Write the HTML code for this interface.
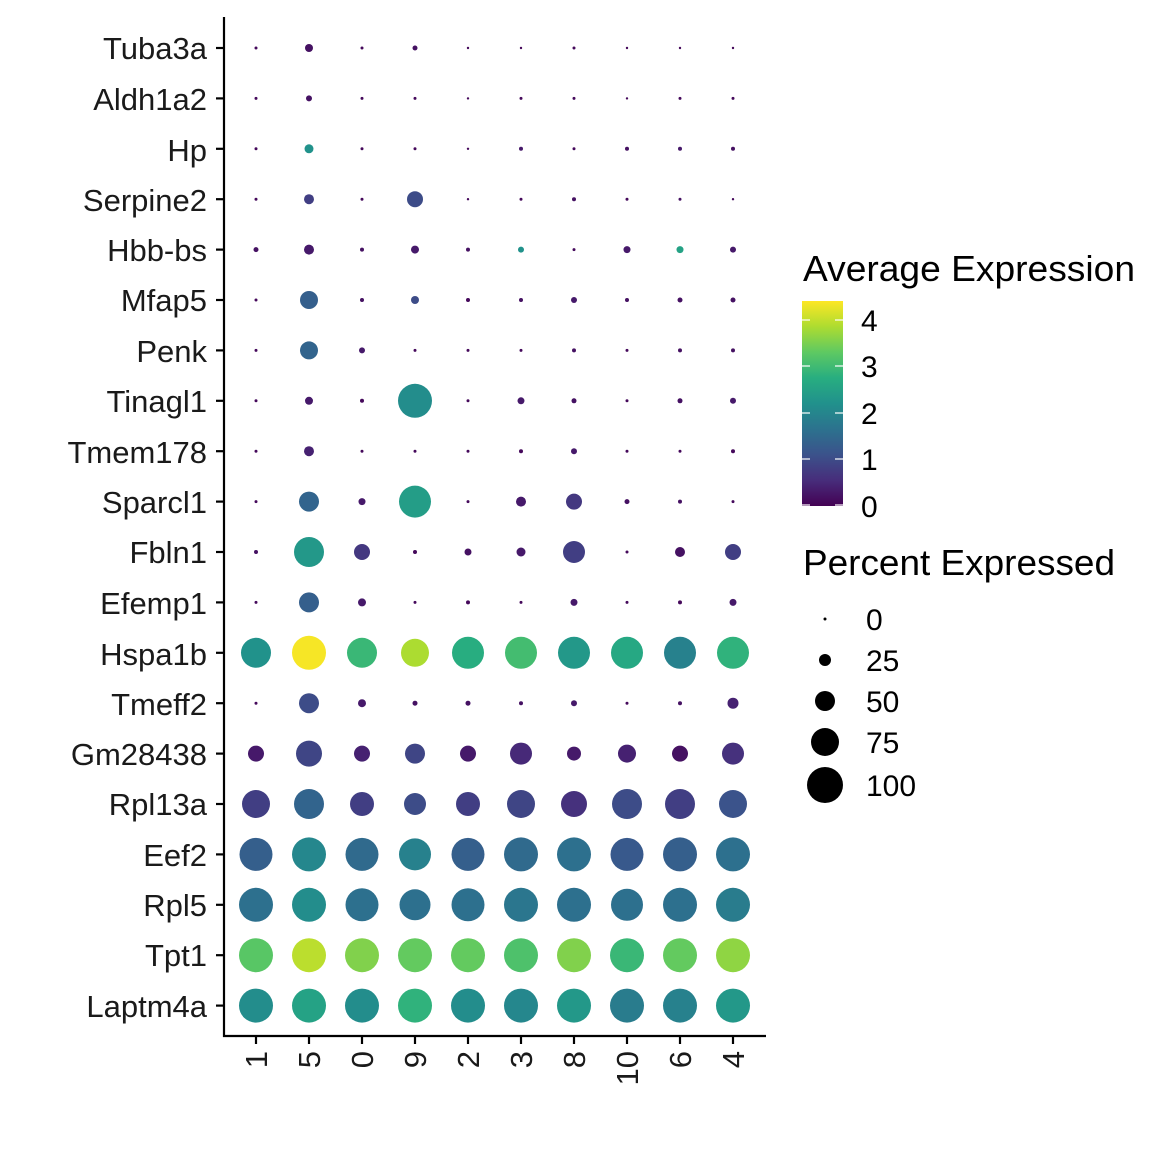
<!DOCTYPE html>
<html><head><meta charset="utf-8"><style>
html,body{margin:0;padding:0;background:#fff;}
svg{display:block;font-family:"Liberation Sans",Arial,sans-serif;}
</style></head><body>
<svg id="s" width="1152" height="1152" viewBox="0 0 1152 1152" xmlns="http://www.w3.org/2000/svg">
<defs><linearGradient id="vg" x1="0" y1="1" x2="0" y2="0">
<stop offset="0" stop-color="#440154"/><stop offset="0.125" stop-color="#472d7b"/><stop offset="0.25" stop-color="#3b528b"/><stop offset="0.375" stop-color="#2c728e"/><stop offset="0.5" stop-color="#21918c"/><stop offset="0.625" stop-color="#28ae80"/><stop offset="0.75" stop-color="#5ec962"/><stop offset="0.875" stop-color="#addc30"/><stop offset="1" stop-color="#fde725"/></linearGradient></defs>
<g id="dots"></g>
<line x1="224" y1="17" x2="224" y2="1037" stroke="#000" stroke-width="2.2"/>
<line x1="223" y1="1036" x2="766" y2="1036" stroke="#000" stroke-width="2.2"/>
<g id="ticks" stroke="#000" stroke-width="2.2"></g>
<g font-size="31" text-anchor="end" fill="#1a1a1a">
<text x="207" y="59">Tuba3a</text><text x="207" y="110">Aldh1a2</text><text x="207" y="161">Hp</text><text x="207" y="211">Serpine2</text><text x="207" y="261">Hbb-bs</text><text x="207" y="311">Mfap5</text><text x="207" y="362">Penk</text><text x="207" y="412">Tinagl1</text><text x="207" y="463">Tmem178</text><text x="207" y="513">Sparcl1</text><text x="207" y="563">Fbln1</text><text x="207" y="614">Efemp1</text><text x="207" y="665">Hspa1b</text><text x="207" y="715">Tmeff2</text><text x="207" y="765">Gm28438</text><text x="207" y="815">Rpl13a</text><text x="207" y="866">Eef2</text><text x="207" y="916">Rpl5</text><text x="207" y="966">Tpt1</text><text x="207" y="1017">Laptm4a</text>
</g>
<g font-size="31" text-anchor="end" fill="#1a1a1a">
<text transform="translate(267,1051) rotate(-90)">1</text><text transform="translate(320,1051) rotate(-90)">5</text><text transform="translate(373,1051) rotate(-90)">0</text><text transform="translate(426,1051) rotate(-90)">9</text><text transform="translate(479,1051) rotate(-90)">2</text><text transform="translate(532,1051) rotate(-90)">3</text><text transform="translate(585,1051) rotate(-90)">8</text><text transform="translate(638,1051) rotate(-90)">10</text><text transform="translate(691,1051) rotate(-90)">6</text><text transform="translate(744,1051) rotate(-90)">4</text>
</g>
<text x="803" y="281" font-size="36" fill="#000" textLength="332" lengthAdjust="spacingAndGlyphs">Average Expression</text>
<rect x="802" y="301" width="41" height="205" fill="url(#vg)"/>
<g stroke="#fff" stroke-width="1.2">
<line x1="802" y1="320" x2="810" y2="320"/><line x1="835" y1="320" x2="843" y2="320"/>
<line x1="802" y1="366" x2="810" y2="366"/><line x1="835" y1="366" x2="843" y2="366"/>
<line x1="802" y1="413" x2="810" y2="413"/><line x1="835" y1="413" x2="843" y2="413"/>
<line x1="802" y1="459" x2="810" y2="459"/><line x1="835" y1="459" x2="843" y2="459"/>
<line x1="802" y1="505" x2="810" y2="505"/><line x1="835" y1="505" x2="843" y2="505"/>
</g>
<g font-size="30" fill="#000">
<text x="861" y="331">4</text><text x="861" y="377">3</text><text x="861" y="424">2</text><text x="861" y="470">1</text><text x="861" y="517">0</text>
</g>
<text x="803" y="575" font-size="36" fill="#000" textLength="312" lengthAdjust="spacingAndGlyphs">Percent Expressed</text>
<g fill="#000">
<circle cx="825" cy="619" r="1.5"/><circle cx="825" cy="660" r="6"/><circle cx="825" cy="701" r="10"/><circle cx="825" cy="742" r="14"/><circle cx="825" cy="785" r="18"/>
</g>
<g font-size="30" fill="#000">
<text x="866" y="630">0</text><text x="866" y="671">25</text><text x="866" y="712">50</text><text x="866" y="753">75</text><text x="866" y="796">100</text>
</g>
</svg>
<script>
var V=["#440154","#472d7b","#3b528b","#2c728e","#21918c","#28ae80","#5ec962","#addc30","#fde725"];
function h(c){return [parseInt(c.substr(1,2),16),parseInt(c.substr(3,2),16),parseInt(c.substr(5,2),16)];}
function col(v){var t=Math.max(0,Math.min(1,v/4.35))*8;var i=Math.min(7,Math.floor(t)),f=t-i;var a=h(V[i]),b=h(V[i+1]);
return "rgb("+a.map(function(x,k){return Math.round(x+(b[k]-x)*f)}).join(",")+")";}
var R=[
[[1.5,.1],[4,.2],[1.5,.1],[2.5,.2],[1.2,.1],[1.2,.1],[1.5,.1],[1.2,.1],[1.2,.1],[1.2,.1]],
[[1.5,.1],[3,.2],[1.5,.1],[1.5,.1],[1.2,.1],[1.5,.1],[1.5,.1],[1.2,.1],[1.5,.1],[1.5,.1]],
[[1.5,.1],[4.5,2.2],[1.5,.1],[1.5,.1],[1.2,.1],[2,.3],[1.5,.1],[2,.2],[2,.3],[2,.2]],
[[1.5,.1],[5,.8],[1.5,.1],[8,1.0],[1.2,.1],[1.5,.1],[2,.2],[1.5,.1],[1.5,.2],[1.2,.1]],
[[2.5,.2],[5,.3],[2,.2],[4,.3],[2,.2],[3,2.2],[1.5,.1],[3.5,.3],[3.5,2.5],[3,.3]],
[[1.5,.1],[9,1.3],[2,.2],[4,1.0],[2,.1],[2,.2],[3,.3],[2,.2],[2.5,.2],[2.5,.2]],
[[1.5,.1],[9,1.4],[3,.3],[1.5,.1],[1.5,.1],[1.5,.1],[2,.2],[1.5,.1],[2,.2],[2,.2]],
[[1.5,.1],[4,.3],[2,.1],[17,2.1],[1.5,.1],[3.5,.3],[2.5,.2],[1.5,.1],[2.5,.2],[3,.3]],
[[1.5,.1],[5,.4],[1.5,.1],[1.5,.1],[1.5,.1],[2,.1],[3,.3],[1.5,.1],[1.5,.1],[2,.1]],
[[1.5,.1],[10,1.4],[3.5,.3],[16,2.4],[1.5,.1],[5,.3],[8,.7],[2.5,.2],[2,.2],[1.5,.1]],
[[2,.2],[15,2.3],[8,.7],[2,.1],[3.5,.2],[4.5,.3],[11,.8],[1.5,.1],[5,.2],[8,.8]],
[[1.5,.1],[10,1.3],[4,.3],[1.5,.1],[2,.1],[1.5,.1],[3.5,.3],[1.5,.1],[2,.1],[3.5,.3]],
[[15,2.2],[17,4.3],[15,2.9],[14,3.8],[16,2.7],[16,3.0],[16,2.3],[16,2.6],[16,1.9],[16,2.8]],
[[1.5,.1],[10,1.0],[4,.3],[2.5,.2],[2.5,.2],[2,.2],[3,.3],[1.5,.1],[2,.2],[5.5,.4]],
[[8,.3],[13,.9],[8,.4],[10,.9],[8,.3],[11,.5],[7,.3],[9,.4],[8,.2],[11,.6]],
[[14,.8],[15,1.4],[12,.8],[11,1.0],[12,.8],[14,.9],[13,.6],[15,1.0],[15,.8],[14,1.1]],
[[16.5,1.3],[17,2.0],[16.5,1.5],[16,1.9],[16.5,1.3],[17,1.5],[17,1.6],[16.5,1.2],[17,1.3],[17,1.6]],
[[17,1.6],[17,2.1],[16.5,1.6],[15.5,1.6],[16.5,1.6],[17,1.7],[17,1.6],[16,1.6],[17,1.6],[17,1.8]],
[[17,3.2],[17,3.9],[17,3.5],[17,3.3],[17,3.3],[17,3.1],[17,3.5],[17,2.9],[17,3.3],[17,3.6]],
[[17,2.1],[17,2.5],[17,2.1],[17,2.8],[17,2.1],[17,2.0],[17,2.3],[17,1.8],[17,1.9],[17,2.3]]];
var ns="http://www.w3.org/2000/svg",g=document.getElementById("dots"),tk=document.getElementById("ticks");
for(var r=0;r<20;r++){var y=48+r*50.4;
 var l=document.createElementNS(ns,"line");l.setAttribute("x1",216);l.setAttribute("x2",224);l.setAttribute("y1",y);l.setAttribute("y2",y);tk.appendChild(l);
 for(var c=0;c<10;c++){var d=R[r][c];var e=document.createElementNS(ns,"circle");
 e.setAttribute("cx",256+c*53);e.setAttribute("cy",y);e.setAttribute("r",d[0]);e.setAttribute("fill",col(d[1]));g.appendChild(e);}}
for(var c=0;c<10;c++){var x=256+c*53;var l=document.createElementNS(ns,"line");l.setAttribute("x1",x);l.setAttribute("x2",x);l.setAttribute("y1",1036);l.setAttribute("y2",1044);tk.appendChild(l);}
</script>
</body></html>
